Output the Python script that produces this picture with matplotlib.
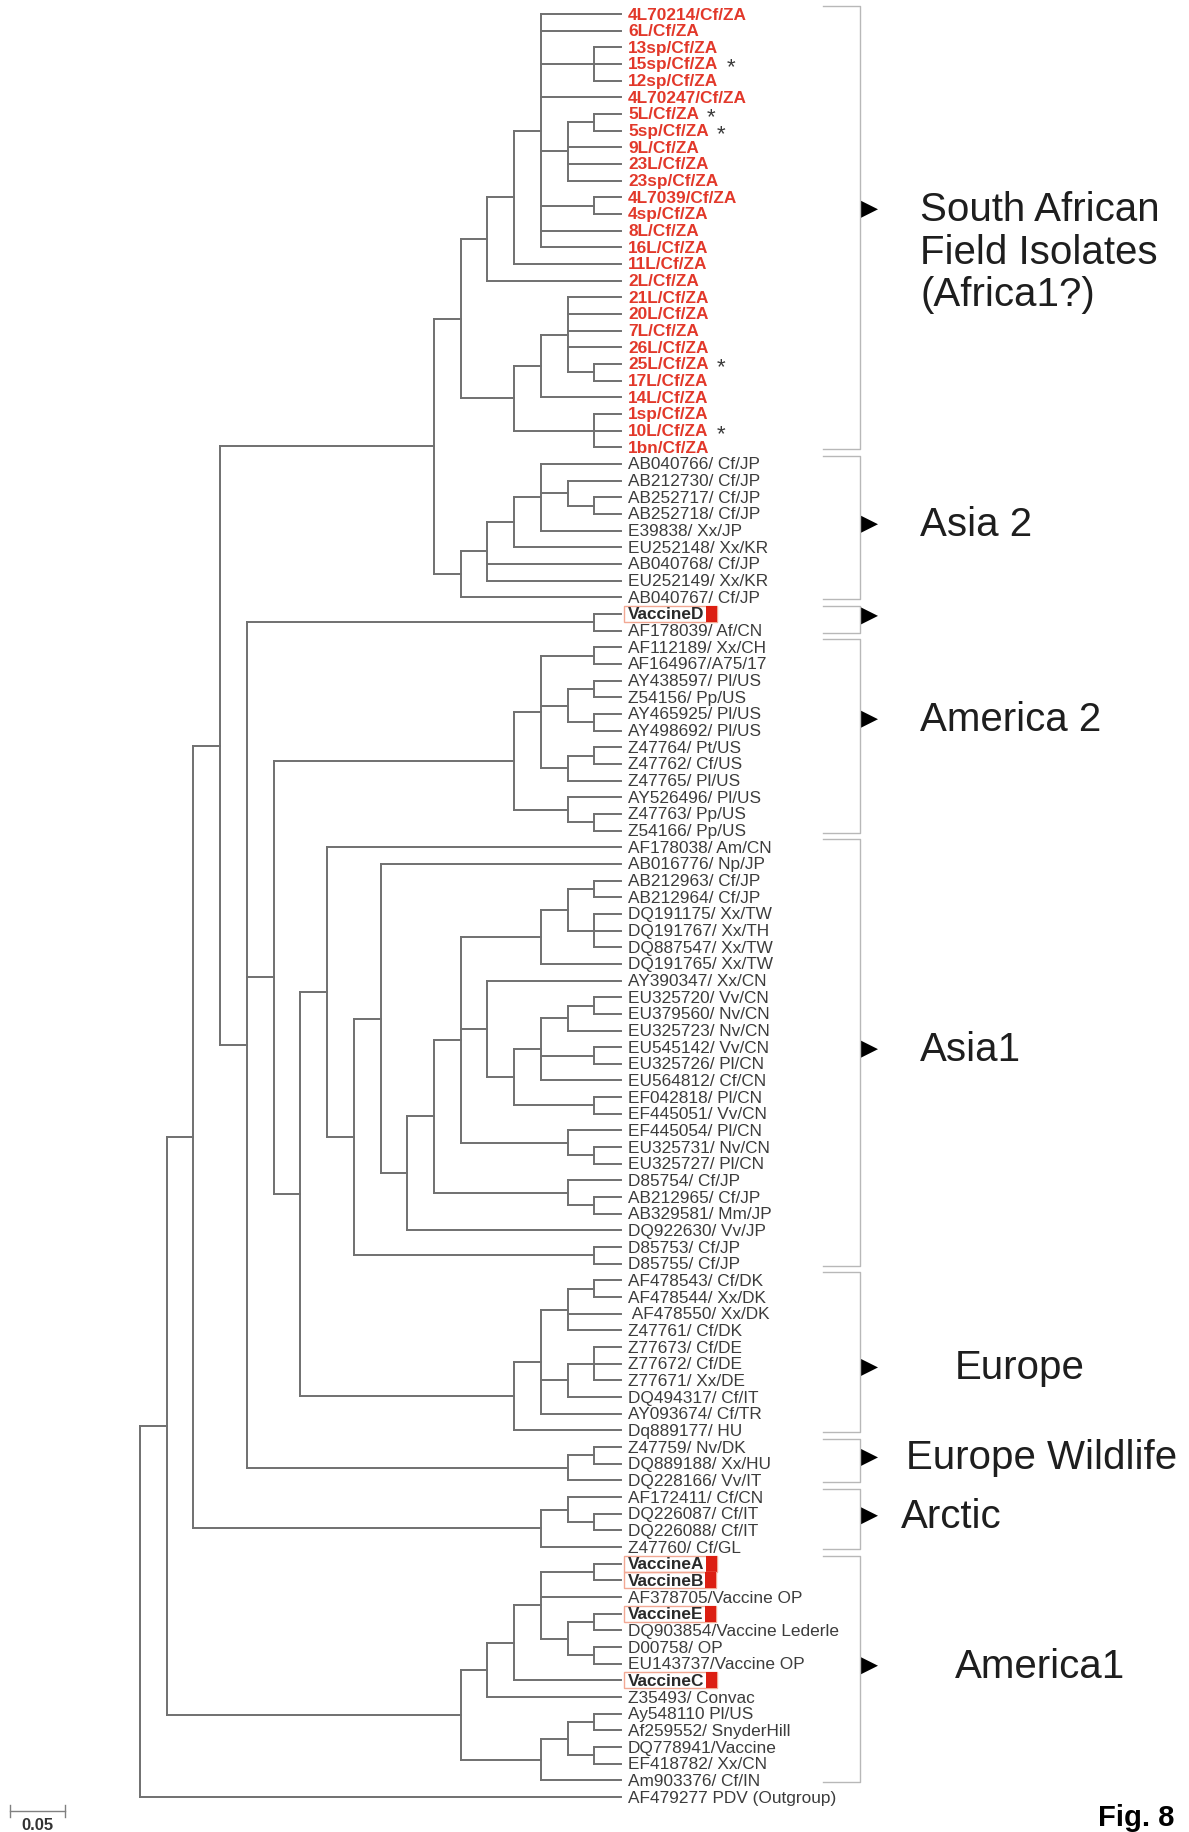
import matplotlib
matplotlib.use("Agg")
import matplotlib.pyplot as plt
from matplotlib.collections import LineCollection
from matplotlib.patches import Rectangle, Polygon

# ---- data ----
sa_isolates = ["4L70214/Cf/ZA", "6L/Cf/ZA", "13sp/Cf/ZA", "15sp/Cf/ZA", "12sp/Cf/ZA",
               "4L70247/Cf/ZA", "5L/Cf/ZA", "5sp/Cf/ZA", "9L/Cf/ZA", "23L/Cf/ZA",
               "23sp/Cf/ZA", "4L7039/Cf/ZA", "4sp/Cf/ZA", "8L/Cf/ZA", "16L/Cf/ZA",
               "11L/Cf/ZA", "2L/Cf/ZA", "21L/Cf/ZA", "20L/Cf/ZA", "7L/Cf/ZA",
               "26L/Cf/ZA", "25L/Cf/ZA", "17L/Cf/ZA", "14L/Cf/ZA", "1sp/Cf/ZA",
               "10L/Cf/ZA", "1bn/Cf/ZA"]
asia2 = ["AB040766/ Cf/JP", "AB212730/ Cf/JP", "AB252717/ Cf/JP", "AB252718/ Cf/JP",
         "E39838/ Xx/JP", "EU252148/ Xx/KR", "AB040768/ Cf/JP", "EU252149/ Xx/KR",
         "AB040767/ Cf/JP"]
vaccine_d = ["VaccineD", "AF178039/ Af/CN"]
america2 = ["AF112189/ Xx/CH", "AF164967/A75/17", "AY438597/ Pl/US", "Z54156/ Pp/US",
            "AY465925/ Pl/US", "AY498692/ Pl/US", "Z47764/ Pt/US", "Z47762/ Cf/US",
            "Z47765/ Pl/US", "AY526496/ Pl/US", "Z47763/ Pp/US", "Z54166/ Pp/US"]
asia1 = ["AF178038/ Am/CN", "AB016776/ Np/JP", "AB212963/ Cf/JP", "AB212964/ Cf/JP",
         "DQ191175/ Xx/TW", "DQ191767/ Xx/TH", "DQ887547/ Xx/TW", "DQ191765/ Xx/TW",
         "AY390347/ Xx/CN", "EU325720/ Vv/CN", "EU379560/ Nv/CN", "EU325723/ Nv/CN",
         "EU545142/ Vv/CN", "EU325726/ Pl/CN", "EU564812/ Cf/CN", "EF042818/ Pl/CN",
         "EF445051/ Vv/CN", "EF445054/ Pl/CN", "EU325731/ Nv/CN", "EU325727/ Pl/CN",
         "D85754/ Cf/JP", "AB212965/ Cf/JP", "AB329581/ Mm/JP", "DQ922630/ Vv/JP",
         "D85753/ Cf/JP", "D85755/ Cf/JP"]
europe = ["AF478543/ Cf/DK", "AF478544/ Xx/DK", " AF478550/ Xx/DK", "Z47761/ Cf/DK",
          "Z77673/ Cf/DE", "Z77672/ Cf/DE", "Z77671/ Xx/DE", "DQ494317/ Cf/IT",
          "AY093674/ Cf/TR", "Dq889177/ HU"]
europe_wildlife = ["Z47759/ Nv/DK", "DQ889188/ Xx/HU", "DQ228166/ Vv/IT"]
arctic = ["AF172411/ Cf/CN", "DQ226087/ Cf/IT", "DQ226088/ Cf/IT", "Z47760/ Cf/GL"]
america1 = ["VaccineA", "VaccineB", "AF378705/Vaccine OP", "VaccineE",
            "DQ903854/Vaccine Lederle", "D00758/ OP", "EU143737/Vaccine OP", "VaccineC",
            "Z35493/ Convac", "Ay548110 Pl/US", "Af259552/ SnyderHill", "DQ778941/Vaccine",
            "EF418782/ Xx/CN", "Am903376/ Cf/IN"]
outgroup = ["AF479277 PDV (Outgroup)"]

starred = ["15sp/Cf/ZA", "5L/Cf/ZA", "5sp/Cf/ZA", "25L/Cf/ZA", "10L/Cf/ZA"]
vaccines = ["VaccineA", "VaccineB", "VaccineC", "VaccineD", "VaccineE"]

groups = [("South African\nField Isolates\n(Africa1?)", sa_isolates),
          ("Asia 2", asia2), ("", vaccine_d), ("America 2", america2),
          ("Asia1", asia1), ("Europe", europe), ("Europe Wildlife", europe_wildlife),
          ("Arctic", arctic), ("America1", america1)]

# topology, leaves numbered 1..108 in the order above
SA_TOP = "(1,2,(3,4,5),6,((7,8),9,10,11),(12,13),14,15)"
SA_LOW = "(((18,19,20,21,(22,23)),24),(25,26,27))"
ASIA2 = "((((28,(29,(30,31)),32),33),34,35),36)"
VAC_D = "(37,38)"
AMERICA2 = "(((39,40),((41,42),(43,44)),((45,46),47)),(48,(49,50)))"
ASIA1_CORE = "((((53,54),(55,56,57)),58),(59,((((60,61),62),(63,64),65),(66,67))),(68,(69,70)))"
EUROPE = "((((77,78),79,80),((81,82,83),84),85),86)"
EU_WILD = "((87,88),89)"
ARCTIC = "((90,(91,92)),93)"
AMERICA1 = "(((((94,95),96,((97,98),(99,100))),101),102),(((103,104),(105,106)),107))"

ASIA1 = "(51,((52,((" + ASIA1_CORE + ",(71,(72,73))),74)),(75,76)))"
SA = "(((" + SA_TOP + ",16),17)," + SA_LOW + ")"
N300 = "(" + ASIA1 + "," + EUROPE + ")"
N273 = "(" + AMERICA2 + "," + N300 + ")"
N247 = "(" + VAC_D + "," + N273 + "," + EU_WILD + ")"
N220 = "((" + SA + "," + ASIA2 + ")," + N247 + ")"
N193 = "(" + N220 + "," + ARCTIC + ")"
TREE = "((" + N193 + "," + AMERICA1 + "),108)"

leaves = (sa_isolates + asia2 + vaccine_d + america2 + asia1 + europe +
          europe_wildlife + arctic + america1 + outgroup)


def parse(s):
    pos = 0

    def node():
        nonlocal pos
        if s[pos] == "(":
            pos += 1
            kids = [node()]
            while s[pos] == ",":
                pos += 1
                kids.append(node())
            pos += 1
            return kids
        start = pos
        while s[pos].isdigit():
            pos += 1
        return int(s[start:pos]) - 1
    return node()


segs = []


def place(n):
    # returns (height, y); x of a node = -height (tips at 0)
    if isinstance(n, int):
        return 0, n
    kids = [place(k) for k in n]
    h = 1 + max(k[0] for k in kids)
    segs.append([(-h, kids[0][1]), (-h, kids[-1][1])])
    for kh, ky in kids:
        segs.append([(-h, ky), (-kh, ky)])
    return h, (kids[0][1] + kids[-1][1]) / 2


root_h, root_y = place(parse(TREE))

# ---- layout ----
W, H = 1189, 1833
XPX, YPX = 26.72, 16.664          # pixels per level / per row
TIP_PX, TOP_PX = 621, 15


def dx(p):
    return p / XPX


def dy(p):
    return p / YPX


fig = plt.figure(figsize=(W / 100, H / 100), dpi=100)
ax = fig.add_axes([0, 0, 1, 1])
ax.set_xlim(-TIP_PX / XPX, (W - TIP_PX) / XPX)
ax.set_ylim((H - TOP_PX) / YPX, -TOP_PX / YPX)
ax.axis("off")

ax.add_collection(LineCollection(segs, colors="#707070", linewidths=1.4,
                                 capstyle="projecting"))

font = "Liberation Sans"
label_texts = {}
for i, name in enumerate(leaves):
    if name in sa_isolates:
        kw = dict(color="#e2382a", fontweight="bold")
    elif name in vaccines:
        kw = dict(color="#2a2a2a", fontweight="bold")
    else:
        kw = dict(color="#3c3c3c")
    label_texts[name] = ax.text(dx(7), i, name, va="center", ha="left",
                                fontsize=12.4, family=font, **kw)

fig.canvas.draw()
renderer = fig.canvas.get_renderer()
inv = ax.transData.inverted()
for name, t in label_texts.items():
    bb = t.get_window_extent(renderer=renderer)
    x0 = inv.transform((bb.x0, bb.y0))[0]
    x1 = inv.transform((bb.x1, bb.y0))[0]
    i = leaves.index(name)
    if name in vaccines:
        ax.add_patch(Rectangle((x0 - dx(4), i - dy(8)), (x1 - x0) + dx(16), dy(16),
                               facecolor="none", edgecolor="#f2a893", lw=1.0))
        ax.add_patch(Rectangle((x1 + dx(1), i - dy(8)), dx(11), dy(16),
                               facecolor="#dc1f12", edgecolor="none"))
    if name in starred:
        ax.text(x1 + dx(8), i + dy(3), "*", va="center", ha="left", fontsize=16,
                color="#3a3a3a", family=font)

# group brackets, arrows and names
br_x = dx(860 - TIP_PX)
tick_x = dx(823 - TIP_PX)
arrow_shift = {"South African\nField Isolates\n(Africa1?)": -1.1, "America 2": -1.0,
               "Europe": 0.9}
text_px = {"Europe": 955, "Europe Wildlife": 906, "Arctic": 901, "America1": 955}
for gname, members in groups:
    first = leaves.index(members[0])
    last = leaves.index(members[-1])
    top = first - dy(8)
    bot = last + dy(2)
    ax.plot([tick_x, br_x, br_x, tick_x], [top, top, bot, bot], color="#b8b8b8", lw=1.0)
    ya = (top + bot) / 2 + arrow_shift.get(gname, -0.2)
    ax.add_patch(Polygon([(br_x, ya - dy(9)), (br_x, ya + dy(9)), (br_x + dx(18), ya)],
                         closed=True, facecolor="black", edgecolor="none"))
    tx = dx(text_px.get(gname, 920) - TIP_PX)
    for k, line in enumerate(gname.split("\n")):
        if line:
            ax.text(tx, ya + k * dy(42.5), line, va="center", ha="left", fontsize=29,
                    family=font, color="#1e1e1e")

# scale bar and figure tag
sy = (H - 1812) / H
ax.plot([10 / W, 65 / W], [sy, sy], color="#808080", lw=1.0, transform=ax.transAxes)
for xb in (10 / W, 65 / W):
    ax.plot([xb, xb], [sy - 6 / H, sy + 6 / H], color="#808080", lw=1.0,
            transform=ax.transAxes)
ax.text(37 / W, 0.0, "0.05", ha="center", va="bottom", fontsize=12, fontweight="bold",
        color="#333333", family=font, transform=ax.transAxes)
ax.text(1098 / W, 1 / H, "Fig. 8", ha="left", va="bottom", fontsize=21,
        fontweight="bold", color="black", family=font, transform=ax.transAxes)

fig.savefig("out.png", dpi=100, facecolor="white")
